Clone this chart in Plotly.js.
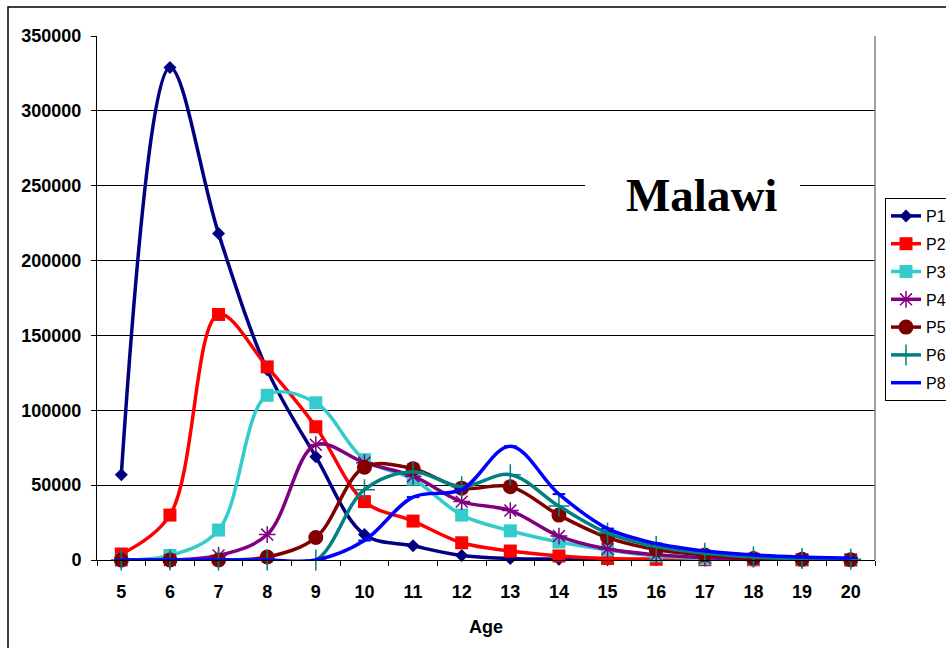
<!DOCTYPE html>
<html>
<head>
<meta charset="utf-8">
<script src="https://cdn.plot.ly/plotly-3.0.1.min.js"></script>
<style>html,body{margin:0;padding:0;background:#fff;}#chart{width:946px;height:648px;}</style>
</head>
<body>
<div id="chart"></div>
<script>
const ages = ['5','6','7','8','9','10','11','12','13','14','15','16','17','18','19','20'];
const P1 = [57000, 329000, 218000, 127000, 69000, 17000, 9500, 3000, 1000, 500, 200, 100, 50, 0, 0, 0];
const P2 = [4000, 30000, 164000, 129000, 89000, 39000, 26000, 11500, 6000, 2700, 1000, 500, 200, 100, 50, 0];
const P3 = [0, 3000, 20000, 110000, 105000, 67000, 54000, 30000, 19500, 12000, 6700, 2700, 1000, 500, 200, 100];
const P4 = [0, 0, 3000, 17000, 77000, 65000, 56000, 39000, 33000, 16000, 7300, 3500, 1500, 700, 300, 100];
const P5 = [0, 0, 0, 2000, 15000, 62000, 61000, 48000, 49000, 30000, 15000, 7000, 3300, 1000, 500, 200];
const P6 = [0, 0, 0, 0, 0, 47000, 59000, 49000, 57000, 36000, 18000, 9000, 4500, 2000, 1000, 500];
const P8 = [0, 0, 0, 0, 0, 13000, 42000, 47000, 76000, 44000, 21000, 11000, 6000, 3300, 2000, 1300];
const seriesNames = ['P1','P2','P3','P4','P5','P6','P8'];

const series = [P1, P2, P3, P4, P5, P6, P8];
const styles = [
  {color:'#000080', symbol:'diamond', size:10, mline:0},
  {color:'#FF0000', symbol:'square', size:13, mline:0},
  {color:'#33CCCC', symbol:'square', size:13, mline:0},
  {color:'#800080', symbol:'asterisk-open', size:14, mline:1.5},
  {color:'#800000', symbol:'circle', size:15, mline:0},
  {color:'#008080', symbol:'cross-thin-open', size:15, mline:1.5},
  {color:'#0000FF', symbol:'line-ew-open', size:9, mline:2}
];

const traces = series.map((vals, i) => ({
  type:'scatter', mode:'lines+markers', x: ages, y: vals, name: seriesNames[i],
  legendgroup: 'g'+i,
  line:{color:styles[i].color, width:3.5, shape:'spline', smoothing:1},
  marker:{color:styles[i].color, symbol:styles[i].symbol, size:styles[i].size,
          line:{color:styles[i].color, width:styles[i].mline}},
  cliponaxis:false
}));

const W = 946, H = 648, L = 97, R = 875, T = 36, B = 560;
const px = v => (v - L) / (R - L);
const py = v => (B - v) / (B - T);

const layout = {
  width: W, height: H,
  margin:{l:L, r:W-R, t:T, b:H-B, autoexpand:false},
  paper_bgcolor:'#fff', plot_bgcolor:'#fff',
  font:{family:'Liberation Sans, Arial, sans-serif', color:'#000'},
  showlegend:true,
  legend:{xref:'container', yref:'container', x:885/W, xanchor:'left', y:1-198/H, yanchor:'top',
          bgcolor:'#fff', bordercolor:'#000', borderwidth:1,
          font:{size:16, family:'Liberation Sans, Arial, sans-serif'},
          traceorder:'grouped', tracegroupgap:4},
  xaxis:{type:'category', range:[-0.5, 15.5], showgrid:false,
         showline:true, linecolor:'#000', linewidth:1,
         ticks:'outside', tickson:'boundaries', ticklen:5, tickcolor:'#000',
         ticklabelstandoff:15,
         tickfont:{size:18, weight:'bold'},
         title:{text:'Age', font:{size:18, weight:'bold'}, standoff:19},
         zeroline:false, fixedrange:true, automargin:false},
  yaxis:{range:[0, 350000], dtick:50000, tickformat:'d',
         showgrid:true, gridcolor:'#000', gridwidth:1,
         showline:true, linecolor:'#000', linewidth:1,
         ticks:'outside', ticklen:5, tickcolor:'#000',
         ticklabelstandoff:6,
         tickfont:{size:18, weight:'bold'},
         zeroline:false, fixedrange:true, automargin:false},
  shapes:[
    {type:'line', xref:'paper', yref:'paper', x0:1, x1:1, y0:0, y1:1,
     line:{color:'#808080', width:1.5}},
    {type:'rect', xref:'paper', yref:'paper', x0:px(585), x1:px(800), y0:py(235), y1:py(150),
     line:{width:0}, fillcolor:'#fff', layer:'above'},
    {type:'rect', xref:'paper', yref:'paper', x0:px(8), x1:px(1100), y0:py(800), y1:py(7),
     line:{color:'#000', width:1.5}, fillcolor:'rgba(0,0,0,0)', layer:'above'}
  ],
  annotations:[
    {xref:'paper', yref:'paper', x:px(701), y:py(195), xanchor:'center', yanchor:'middle',
     text:'Malawi', showarrow:false,
     font:{family:'Liberation Serif, Times New Roman, serif', size:47, weight:'bold', color:'#000'}}
  ]
};

Plotly.newPlot('chart', traces, layout, {displayModeBar:false, staticPlot:true});
</script>
</body>
</html>
